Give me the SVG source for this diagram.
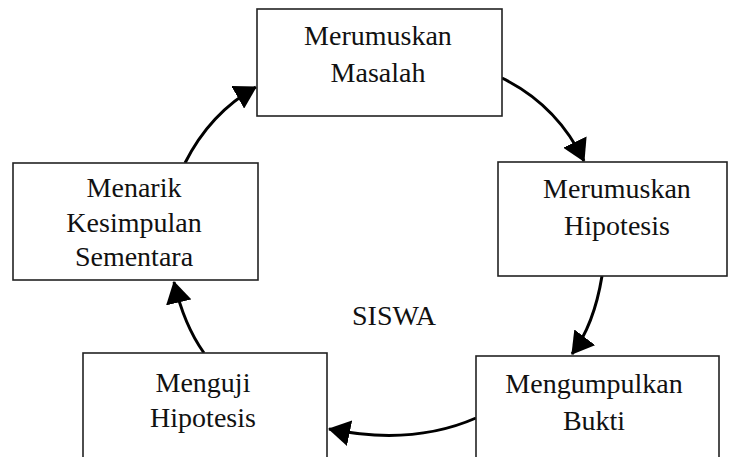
<svg xmlns="http://www.w3.org/2000/svg" width="730" height="457" viewBox="0 0 730 457">
<style>
.box{fill:#fff;stroke:#222;stroke-width:1.6}
.t{font-family:'Liberation Serif','DejaVu Serif',serif;font-size:28px;fill:#111;text-anchor:middle}
.c{fill:none;stroke:#000;stroke-width:3;marker-end:url(#ah)}
</style>
<defs>
<marker id="ah" markerUnits="userSpaceOnUse" markerWidth="24" markerHeight="26" refX="21" refY="13" orient="auto">
<path d="M0,0 L22,13 L0,26 z" fill="#000"/>
</marker>
</defs>
<rect width="730" height="457" fill="#fff"/>
<g id="connectors">
<path class="c" d="M502,78 Q557,105 584,161"/>
<path class="c" d="M602,276 Q594,325 572,354"/>
<path class="c" d="M476,418 Q412,446 329,429"/>
<path class="c" d="M204,353 Q184,325 174,282"/>
<path class="c" d="M185,163 Q210,113 256,87"/>
</g>
<g id="n1"><rect class="box" x="257" y="9" width="245" height="107"/>
<text class="t" x="378" y="45">Merumuskan</text><text class="t" x="378" y="82">Masalah</text></g>
<g id="n2"><rect class="box" x="498" y="162" width="229" height="114"/>
<text class="t" x="617" y="198">Merumuskan</text><text class="t" x="617" y="235">Hipotesis</text></g>
<g id="n3"><rect class="box" x="476" y="356" width="243" height="110"/>
<text class="t" x="594" y="393">Mengumpulkan</text><text class="t" x="594" y="430">Bukti</text></g>
<g id="n4"><rect class="box" x="83" y="353" width="244" height="110"/>
<text class="t" x="203" y="392">Menguji</text><text class="t" x="203" y="427">Hipotesis</text></g>
<g id="n5"><rect class="box" x="13" y="163" width="245" height="117"/>
<text class="t" x="134" y="197">Menarik</text><text class="t" x="134" y="232">Kesimpulan</text><text class="t" x="134" y="266">Sementara</text></g>
<text class="t" x="394" y="325">SISWA</text>
</svg>
